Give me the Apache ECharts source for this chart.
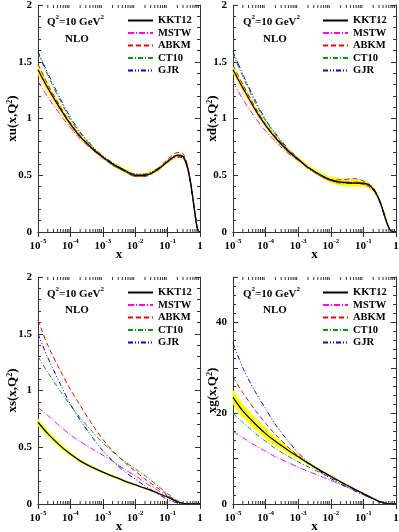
<!DOCTYPE html>
<html>
<head>
<meta charset="utf-8">
<script src="https://cdn.jsdelivr.net/npm/echarts@6/dist/echarts.min.js"></script>
<style>
  html, body { margin: 0; padding: 0; background: #fff; }
  #main { width: 399px; height: 532px; }
</style>
</head>
<body>
<div id="main"></div>
<script>
// x grid shared by every curve
var xGrid = [1e-5, 2e-5, 5e-5, 1e-4, 2e-4, 5e-4, 1e-3, 2e-3, 5e-3, 0.01, 0.02, 0.05, 0.1, 0.2, 0.3, 0.4, 0.5, 0.6, 0.7, 0.8, 0.9, 1];
var setNames = ['KKT12', 'MSTW', 'ABKM', 'CT10', 'GJR'];

// xu(x,Q^2)
var xuKKT12 = [1.43, 1.27, 1.08, 0.95, 0.84, 0.73, 0.66, 0.60, 0.54, 0.50, 0.50, 0.55, 0.62, 0.675, 0.665, 0.58, 0.45, 0.30, 0.16, 0.05, 0.005, 0];
var xuKKT12Err = [0.04, 0.035, 0.03, 0.025, 0.02, 0.018, 0.015, 0.015, 0.015, 0.015, 0.015, 0.015, 0.015, 0.015, 0.015, 0.012, 0.01, 0.008, 0.006, 0.004, 0.002, 0];
var xuMSTW = [1.33, 1.19, 1.03, 0.92, 0.82, 0.72, 0.65, 0.59, 0.53, 0.49, 0.49, 0.55, 0.63, 0.68, 0.67, 0.59, 0.46, 0.31, 0.17, 0.06, 0.006, 0];
var xuABKM = [1.48, 1.30, 1.10, 0.96, 0.85, 0.73, 0.66, 0.59, 0.53, 0.49, 0.49, 0.56, 0.64, 0.70, 0.69, 0.60, 0.46, 0.31, 0.17, 0.06, 0.006, 0];
var xuCT10 = [1.58, 1.38, 1.15, 0.99, 0.87, 0.74, 0.66, 0.59, 0.53, 0.49, 0.50, 0.55, 0.62, 0.67, 0.66, 0.58, 0.45, 0.30, 0.16, 0.05, 0.005, 0];
var xuGJR = [1.59, 1.40, 1.17, 1.01, 0.88, 0.75, 0.67, 0.61, 0.54, 0.51, 0.51, 0.56, 0.62, 0.66, 0.65, 0.57, 0.44, 0.29, 0.15, 0.05, 0.005, 0];

// xd(x,Q^2)
var xdKKT12 = [1.43, 1.27, 1.07, 0.94, 0.83, 0.71, 0.64, 0.57, 0.50, 0.46, 0.44, 0.43, 0.43, 0.38, 0.29, 0.19, 0.10, 0.04, 0.01, 0.002, 0, 0];
var xdKKT12Err = [0.03, 0.03, 0.025, 0.02, 0.02, 0.02, 0.02, 0.02, 0.02, 0.025, 0.03, 0.03, 0.025, 0.02, 0.015, 0.01, 0.008, 0.005, 0.002, 0, 0, 0];
var xdMSTW = [1.32, 1.17, 1.00, 0.89, 0.80, 0.69, 0.63, 0.56, 0.49, 0.45, 0.44, 0.44, 0.43, 0.37, 0.28, 0.18, 0.09, 0.04, 0.01, 0.002, 0, 0];
var xdABKM = [1.47, 1.30, 1.09, 0.95, 0.84, 0.72, 0.64, 0.57, 0.50, 0.46, 0.46, 0.47, 0.45, 0.39, 0.29, 0.19, 0.10, 0.04, 0.01, 0.002, 0, 0];
var xdCT10 = [1.57, 1.37, 1.13, 0.98, 0.86, 0.72, 0.64, 0.57, 0.49, 0.45, 0.43, 0.43, 0.43, 0.38, 0.29, 0.19, 0.10, 0.04, 0.01, 0.002, 0, 0];
var xdGJR = [1.59, 1.39, 1.15, 0.99, 0.87, 0.73, 0.65, 0.57, 0.50, 0.46, 0.44, 0.43, 0.42, 0.37, 0.28, 0.18, 0.09, 0.04, 0.01, 0.002, 0, 0];

// xs(x,Q^2)
var xsKKT12 = [0.72, 0.62, 0.51, 0.44, 0.38, 0.32, 0.28, 0.245, 0.20, 0.17, 0.14, 0.095, 0.06, 0.02, 0.005, 0, 0, 0, 0, 0, 0, 0];
var xsKKT12Err = [0.03, 0.025, 0.02, 0.015, 0.012, 0.01, 0.008, 0.008, 0.007, 0.006, 0.005, 0.004, 0.003, 0.002, 0.001, 0, 0, 0, 0, 0, 0, 0];
var xsMSTW = [0.85, 0.78, 0.68, 0.61, 0.55, 0.48, 0.43, 0.38, 0.30, 0.25, 0.19, 0.12, 0.07, 0.02, 0.006, 0, 0, 0, 0, 0, 0, 0];
var xsABKM = [1.62, 1.40, 1.17, 1.01, 0.87, 0.69, 0.57, 0.47, 0.36, 0.29, 0.22, 0.14, 0.08, 0.02, 0.005, 0, 0, 0, 0, 0, 0, 0];
var xsCT10 = [1.30, 1.16, 0.99, 0.87, 0.76, 0.63, 0.54, 0.46, 0.37, 0.31, 0.25, 0.16, 0.09, 0.03, 0.008, 0, 0, 0, 0, 0, 0, 0];
var xsGJR = [1.50, 1.29, 1.05, 0.88, 0.74, 0.58, 0.47, 0.38, 0.28, 0.22, 0.16, 0.09, 0.04, 0.01, 0.002, 0, 0, 0, 0, 0, 0, 0];

// xg(x,Q^2)
var xgKKT12 = [23.5, 20.5, 17.5, 15.5, 13.8, 11.8, 10.4, 9.0, 7.3, 6.1, 4.9, 3.4, 2.3, 1.2, 0.6, 0.3, 0.12, 0.04, 0.01, 0, 0, 0];
var xgKKT12Err = [1.5, 1.4, 1.2, 1.1, 0.9, 0.7, 0.5, 0.3, 0.2, 0.2, 0.15, 0.1, 0.08, 0.05, 0.03, 0.02, 0, 0, 0, 0, 0, 0];
var xgMSTW = [16, 14.6, 12.8, 11.6, 10.4, 9.1, 8.1, 7.2, 6.1, 5.2, 4.3, 3.1, 2.1, 1.1, 0.55, 0.25, 0.1, 0.03, 0.01, 0, 0, 0];
var xgABKM = [28, 24.5, 20.5, 17.8, 15.3, 12.5, 10.6, 9.0, 7.2, 6.0, 4.8, 3.3, 2.2, 1.1, 0.55, 0.25, 0.1, 0.03, 0.01, 0, 0, 0];
var xgCT10 = [20, 18, 15.5, 13.8, 12.2, 10.5, 9.3, 8.2, 6.8, 5.8, 4.7, 3.3, 2.2, 1.1, 0.55, 0.25, 0.1, 0.03, 0.01, 0, 0, 0];
var xgGJR = [35.5, 30, 24.5, 21, 17.5, 13.8, 11.3, 9.2, 7.0, 5.6, 4.4, 3.0, 2.0, 1.1, 0.55, 0.25, 0.1, 0.03, 0.01, 0, 0, 0];

// minor ticks of the log axis (2..9 in each decade)
var xMinorTicks = [];
for (var d = -5; d < 0; d++) {
  for (var k = 2; k <= 9; k++) xMinorTicks.push(k * Math.pow(10, d));
}

var serif = 'Liberation Serif';
var axisColor = '#333';
var styles = {
  KKT12: { color: '#000000', type: 'solid', width: 1.3 },
  MSTW: { color: '#ff00ff', type: [6, 2, 1, 2], width: 1 },
  ABKM: { color: '#ff0000', type: [5, 3], width: 1 },
  CT10: { color: '#00a000', type: [5, 2, 1, 2], width: 1 },
  GJR: { color: '#0000ff', type: [5, 2, 1, 2, 1, 2], width: 1 }
};

var panels = [
  { name: 'xu', kkt: xuKKT12, err: xuKKT12Err, sets: [xuMSTW, xuABKM, xuCT10, xuGJR], max: 2, interval: 0.5,
    left: 38, top: 5, width: 162 },
  { name: 'xd', kkt: xdKKT12, err: xdKKT12Err, sets: [xdMSTW, xdABKM, xdCT10, xdGJR], max: 2, interval: 0.5,
    left: 233, top: 5, width: 163 },
  { name: 'xs', kkt: xsKKT12, err: xsKKT12Err, sets: [xsMSTW, xsABKM, xsCT10, xsGJR], max: 2, interval: 0.5,
    left: 38, top: 277, width: 162 },
  { name: 'xg', kkt: xgKKT12, err: xgKKT12Err, sets: [xgMSTW, xgABKM, xgCT10, xgGJR], max: 50, interval: 10,
    left: 233, top: 277, width: 163 }
];

function pairs(ys) {
  return xGrid.map(function (x, i) { return [x, ys[i]]; });
}

var supRich = {
  sup: { fontFamily: serif, fontWeight: 'bold', fontSize: 7, lineHeight: 7, color: '#000', verticalAlign: 'top' }
};

var grids = [], xAxes = [], yAxes = [], series = [], legends = [], titles = [];

panels.forEach(function (p, gi) {
  var right = gi % 2 === 1;
  grids.push({ left: p.left, top: p.top, width: p.width, height: 227, outerBoundsMode: 'none', containLabel: false });

  var xBase = {
    type: 'log', logBase: 10, gridIndex: gi, min: 1e-5, max: 1, interval: 1,
    axisLine: { show: true, lineStyle: { color: axisColor, width: 1 } },
    axisTick: { show: true, inside: true, length: 5, lineStyle: { color: axisColor } },
    splitLine: { show: false }
  };
  xAxes.push(Object.assign({}, xBase, {
    position: 'bottom',
    name: 'x', nameLocation: 'middle', nameGap: 16, nameMoveOverlap: false,
    nameTextStyle: { fontFamily: serif, fontWeight: 'bold', fontSize: 13, color: '#000' },
    axisLabel: {
      margin: 6, fontFamily: serif, fontWeight: 'bold', fontSize: 11, color: '#000', lineHeight: 16,
      formatter: function (v) {
        if (v >= 1) return '1';
        return '10{sup|' + Math.round(Math.log10(v)) + '}';
      },
      rich: supRich
    }
  }));
  xAxes.push(Object.assign({}, xBase, { position: 'top', axisLabel: { show: false } }));

  var yBase = {
    type: 'value', gridIndex: gi, min: 0, max: p.max, interval: p.interval,
    axisLine: { show: true, lineStyle: { color: axisColor, width: 1 } },
    axisTick: { show: true, inside: true, length: 5, lineStyle: { color: axisColor } },
    minorTick: { show: true, splitNumber: 5, length: 3, lineStyle: { color: axisColor } },
    splitLine: { show: false }
  };
  yAxes.push(Object.assign({}, yBase, {
    position: 'left',
    name: p.name + '(x,Q{sup|2})', nameLocation: 'middle', nameRotate: 90,
    nameGap: right ? 14 : 19, nameMoveOverlap: false,
    nameTextStyle: {
      fontFamily: serif, fontWeight: 'bold', fontSize: 13, color: '#000',
      rich: { sup: { fontFamily: serif, fontWeight: 'bold', fontSize: 8, lineHeight: 8, color: '#000', verticalAlign: 'top' } }
    },
    axisLabel: {
      margin: 6, fontFamily: serif, fontWeight: 'bold', fontSize: 11, color: '#000',
      formatter: function (v) {
        if (p.max > 2 && v % 20 !== 0) return '';
        return String(v);
      }
    }
  }));
  yAxes.push(Object.assign({}, yBase, { position: 'right', axisLabel: { show: false } }));

  var xi = gi * 2, yi = gi * 2;

  // KKT12 uncertainty band, drawn segment by segment through the axes
  series.push({
    type: 'custom', name: 'band-' + gi, xAxisIndex: xi, yAxisIndex: yi, silent: true, z: 1,
    data: xGrid.map(function (x, i) { return [x, p.kkt[i] - p.err[i], p.kkt[i] + p.err[i]]; }),
    encode: { x: 0, y: [1, 2] },
    renderItem: function (params, api) {
      var i = params.dataIndexInside;
      if (i >= params.dataInsideLength - 1) return;
      var a = api.coord([api.value(0, i), api.value(1, i)]);
      var b = api.coord([api.value(0, i + 1), api.value(1, i + 1)]);
      var c = api.coord([api.value(0, i + 1), api.value(2, i + 1)]);
      var e = api.coord([api.value(0, i), api.value(2, i)]);
      return {
        type: 'polygon', shape: { points: [a, b, c, e] },
        style: { fill: '#ffff00', stroke: '#ffff00', lineWidth: 0.6 }
      };
    }
  });

  var curves = [p.kkt].concat(p.sets);
  setNames.forEach(function (n, si) {
    series.push({
      type: 'line', name: n, xAxisIndex: xi, yAxisIndex: yi,
      data: pairs(curves[si]), symbol: 'none', smooth: 0.3,
      lineStyle: styles[n], itemStyle: { color: styles[n].color },
      z: si === 0 ? 4 : 3
    });
  });

  // log-scale minor ticks on bottom and top edges
  series.push({
    type: 'custom', name: 'minor-' + gi, xAxisIndex: xi, yAxisIndex: yi, silent: true, z: 6,
    data: xMinorTicks.map(function (v) { return [v, 0]; }),
    renderItem: function (params, api) {
      var cs = params.coordSys;
      var px = api.coord([api.value(0), 0])[0];
      var bot = cs.y + cs.height;
      return {
        type: 'group', children: [
          { type: 'line', shape: { x1: px, y1: bot, x2: px, y2: bot - 3 }, style: { stroke: axisColor, lineWidth: 1 } },
          { type: 'line', shape: { x1: px, y1: cs.y, x2: px, y2: cs.y + 3 }, style: { stroke: axisColor, lineWidth: 1 } }
        ]
      };
    }
  });

  legends.push({
    orient: 'vertical', left: right ? 322 : 127, top: p.top + 10, padding: 0,
    itemWidth: 25, itemHeight: 10, itemGap: 1.5, selectedMode: false,
    itemStyle: { opacity: 0 },
    textStyle: { fontFamily: serif, fontWeight: 'bold', fontSize: 10.5, lineHeight: 10, color: '#000' },
    data: setNames
  });

  titles.push({
    text: 'Q{sup|2}=10 GeV{sup|2}', left: right ? 243 : 47, top: p.top + 9, padding: 0,
    textStyle: {
      fontFamily: serif, fontWeight: 'bold', fontSize: 11, lineHeight: 16, color: '#000',
      rich: supRich
    }
  });
  titles.push({
    text: 'NLO', left: right ? 263 : 65, top: p.top + (gi < 2 ? 29 : 28), padding: 0,
    textStyle: { fontFamily: serif, fontWeight: 'bold', fontSize: 11, color: '#000' }
  });
});

var chart = echarts.init(document.getElementById('main'));
chart.setOption({
  animation: false,
  backgroundColor: '#fff',
  title: titles,
  legend: legends,
  grid: grids,
  xAxis: xAxes,
  yAxis: yAxes,
  series: series
});
</script>
</body>
</html>
